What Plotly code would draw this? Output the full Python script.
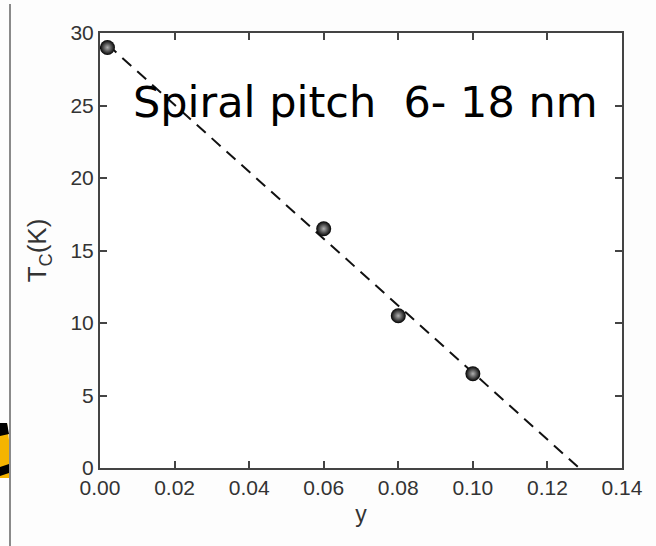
import plotly.graph_objects as go

# data
y_vals = [0.002, 0.06, 0.08, 0.10]
tc_vals = [29.0, 16.5, 10.5, 6.5]
fit_x = [0.002, 0.1285]
fit_y = [29.2, 0.0]
x_ticks = [0.00, 0.02, 0.04, 0.06, 0.08, 0.10, 0.12, 0.14]
x_tick_labels = ["0.00", "0.02", "0.04", "0.06", "0.08", "0.10", "0.12", "0.14"]
y_ticks = [0, 5, 10, 15, 20, 25, 30]
annotation_text = "Spiral pitch  6- 18 nm"

W, H = 656, 546
L, R, T, B = 100, 34, 33, 78
pw, ph = W - L - R, H - T - B

def px(x):
    return (x - L) / pw

def py(y):
    return (H - B - y) / ph

fig = go.Figure()
fig.add_trace(go.Scatter(x=fit_x, y=fit_y, mode="lines",
                         line=dict(color="#111", width=2, dash="12px,8px"),
                         hoverinfo="skip", showlegend=False))
fig.add_trace(go.Scatter(x=y_vals, y=tc_vals, mode="markers",
                         marker=dict(size=15, color="#000",
                                     gradient=dict(type="radial", color="#b0b0b0"),
                                     line=dict(width=0)),
                         showlegend=False))

fig.add_annotation(x=0.0713, y=25.25, xref="x", yref="y", text=annotation_text,
                   showarrow=False,
                   font=dict(family="DejaVu Sans", size=43, color="#000"))

shapes = [
    dict(type="line", xref="paper", yref="paper", x0=px(10), x1=px(10), y0=py(4), y1=py(546),
         line=dict(color="#8a8a8a", width=2), layer="above"),
    dict(type="path", xref="paper", yref="paper",
         path=f"M {px(0)},{py(423)} L {px(7)},{py(423)} L {px(9)},{py(440)} L {px(9)},{py(478)} L {px(0)},{py(478)} Z",
         fillcolor="#f5b400", line=dict(width=0), layer="above"),
    dict(type="path", xref="paper", yref="paper",
         path=f"M {px(0)},{py(423)} L {px(7)},{py(423)} L {px(9)},{py(434)} L {px(0)},{py(436)} Z",
         fillcolor="#000", line=dict(width=0), layer="above"),
    dict(type="path", xref="paper", yref="paper",
         path=f"M {px(0)},{py(467)} L {px(9)},{py(464)} L {px(9)},{py(473)} L {px(0)},{py(476)} Z",
         fillcolor="#000", line=dict(width=0), layer="above"),
]

fig.update_layout(
    width=W, height=H,
    margin=dict(l=L, r=R, t=T, b=B, pad=0),
    paper_bgcolor="#fdfdfd", plot_bgcolor="#ffffff",
    shapes=shapes,
    font=dict(family="Liberation Sans, Arial", size=21, color="#333"),
    xaxis=dict(range=[0, 0.14], tickvals=x_ticks, ticktext=x_tick_labels,
               ticks="inside", ticklen=7, tickwidth=1.5, tickcolor="#444",
               showline=True, linecolor="#444", linewidth=2, mirror="ticks",
               showgrid=False, zeroline=False,
               title=dict(text="y", font=dict(size=23), standoff=8)),
    yaxis=dict(range=[0, 30], tickvals=y_ticks,
               ticks="inside", ticklen=7, tickwidth=1.5, tickcolor="#444",
               showline=True, linecolor="#444", linewidth=2, mirror="ticks",
               showgrid=False, zeroline=False,
               title=dict(text="T<sub>C</sub>(K)", font=dict(size=26), standoff=16)),
)

fig.write_html("out.html", config={"displayModeBar": False},
               post_script="document.body.style.margin='0';")
